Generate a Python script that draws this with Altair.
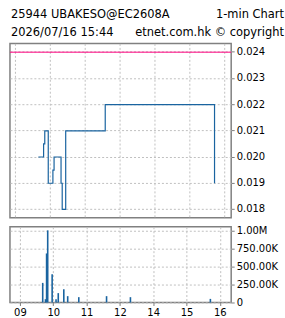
import altair as alt
import pandas as pd

# ---- data ----
price_times = ["09:39", "09:48", "09:50", "09:56", "10:04", "10:06",
               "10:18", "10:20", "10:26", "11:34", "15:42"]
prices = [0.0200, 0.0205, 0.0210, 0.0190, 0.0195, 0.0200,
          0.0190, 0.0180, 0.0210, 0.0220, 0.0190]
vol_times = ["09:41", "09:46", "09:48", "09:50", "09:58", "10:05", "10:09",
             "10:19", "10:26", "10:46", "11:36", "13:19", "15:43"]
volumes = [272000, 46000, 680000, 1000000, 393000, 46000, 130000,
           185000, 88000, 74000, 88000, 74000, 50000]
ref_price = [0.024]
x_tick_labels = ["09", "10", "11", "12", "14", "15", "16"]
x_tick_values = [0, 60, 120, 180, 240, 300, 360]
price_ticks = [0.018, 0.019, 0.020, 0.021, 0.022, 0.023, 0.024]
vol_ticks = [0, 250000, 500000, 750000, 1000000]
header_left_1 = "25944 UBAKESO@EC2608A"
header_right_1 = "1-min Chart"
header_left_2 = "2026/07/16 15:44"
header_right_2 = "etnet.com.hk \u00a9 copyright"


def session_minutes(t):
    h, m = map(int, t.split(":"))
    mins = h * 60 + m - 540
    if h >= 13:  # lunch break removed
        mins -= 60
    return mins


price_df = pd.DataFrame({"t": [session_minutes(t) for t in price_times], "price": prices})
vol_df = pd.DataFrame({"t": [session_minutes(t) for t in vol_times], "vol": volumes})
ref_df = pd.DataFrame({"price": ref_price})

FONT = "DejaVu Sans"
BLUE = "#1a64a0"
PINK = "#ff0080"
GRID = "#c0c0c0"
W = 222

xscale = alt.Scale(domain=[-9, 371.5], nice=False, zero=False)
label_expr = "[" + ",".join("'%s'" % s for s in x_tick_labels) + "][round(datum.value/60)]"

x_top = alt.X("t:Q", scale=xscale, title=None,
              axis=alt.Axis(values=x_tick_values, labels=False, ticks=False,
                            domain=False, grid=True))
y_price_scale = alt.Scale(domain=[0.017662, 0.024316], nice=False, zero=False)
y_price_axis = alt.Axis(orient="right", values=price_ticks, format=".3f",
                        tickSize=3, labelPadding=2, domain=False, grid=True)

ref_rule = alt.Chart(ref_df).mark_rule(color=PINK, strokeWidth=1, yOffset=0.5).encode(
    y=alt.Y("price:Q", scale=y_price_scale, axis=y_price_axis, title=None)
)
step_line = alt.Chart(price_df).mark_line(
    color=BLUE, strokeWidth=1.2, interpolate="step-after", xOffset=0.5, yOffset=0.5
).encode(
    x=x_top,
    y=alt.Y("price:Q", scale=y_price_scale, axis=y_price_axis, title=None),
)


def header(text, xv, yv, align):
    return alt.Chart(pd.DataFrame({"s": [text]})).mark_text(
        font=FONT, fontSize=11.5, align=align, baseline="alphabetic", color="#000000"
    ).encode(x=alt.value(xv), y=alt.value(yv), text="s:N")


top = alt.layer(
    step_line, ref_rule,
    header(header_left_1, 1, -25, "left"),
    header(header_right_1, 275, -25, "right"),
    header(header_left_2, 1, -7, "left"),
    header(header_right_2, 275, -7, "right"),
).properties(width=W, height=175)

bottom = alt.Chart(vol_df).mark_bar(color=BLUE, size=1.6).encode(
    x=alt.X("t:Q", scale=xscale, title=None,
            axis=alt.Axis(values=x_tick_values, labelExpr=label_expr, tickSize=3,
                          labelPadding=2, domain=False, grid=True)),
    y=alt.Y("vol:Q", scale=alt.Scale(domain=[0, 1050000], nice=False), title=None,
            axis=alt.Axis(orient="right", values=vol_ticks, tickSize=3, labelPadding=2,
                          domain=False, grid=True,
                          labelExpr="datum.value == 0 ? '0' : (datum.value >= 1000000 ? format(datum.value/1000000, '.2f') + 'M' : format(datum.value/1000, '.2f') + 'K')")),
).properties(width=W, height=76)

chart = alt.vconcat(top, bottom, spacing=5).properties(
    padding={"left": 8, "top": 8, "right": 0, "bottom": 0},
    background="#ffffff",
).configure_view(
    stroke="#808080", strokeWidth=1.5
).configure_axis(
    labelFont=FONT, labelFontSize=10, labelColor="#000000",
    tickColor="#808080", gridColor=GRID, gridDash=[2, 2], gridWidth=1,
)

chart.save("out.html", embed_options={"renderer": "svg", "actions": False})
